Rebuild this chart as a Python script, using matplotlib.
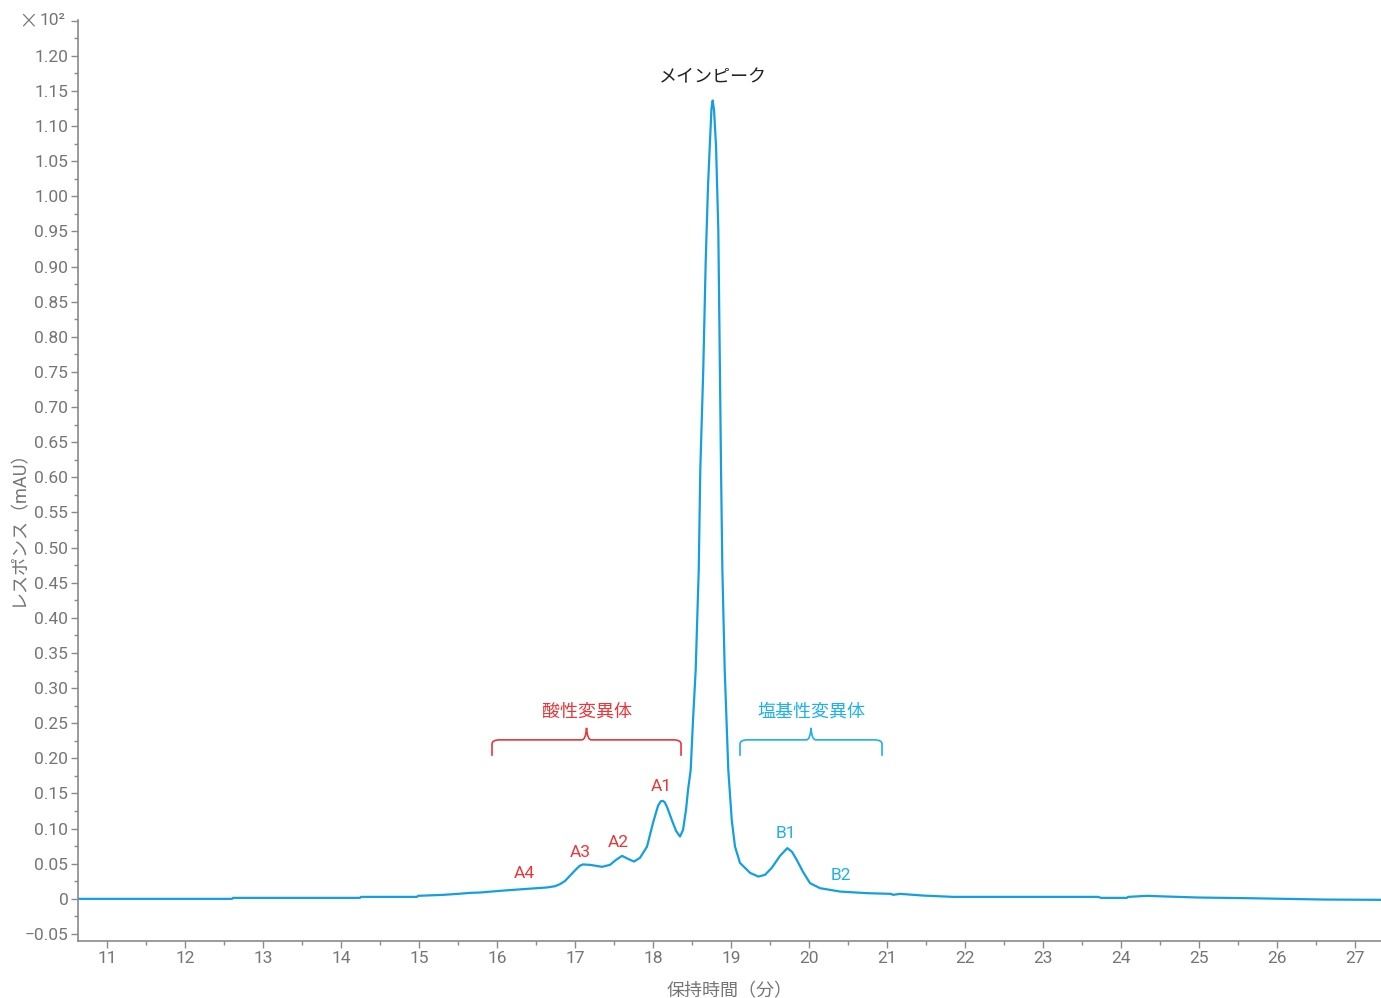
import matplotlib
matplotlib.use("Agg")
import matplotlib.pyplot as plt
from matplotlib.ticker import MultipleLocator, FuncFormatter
from matplotlib.path import Path
from matplotlib.patches import PathPatch

plt.rcParams['font.family'] = ['Roboto', 'Noto Sans CJK JP', 'DejaVu Sans']

# Retention time (min) and response (x10^2 mAU)
time_min = [10.628, 12.603, 12.615, 14.244, 14.256, 14.974, 14.987, 15.308, 15.500, 15.654,
            15.782, 16.038, 16.295, 16.641, 16.744, 16.808, 16.872, 16.936, 17.013, 17.060,
            17.103, 17.192, 17.346, 17.449, 17.526, 17.603, 17.679, 17.756, 17.833, 17.923,
            18.000, 18.064, 18.100, 18.124, 18.150, 18.179, 18.240, 18.295, 18.346, 18.385,
            18.423, 18.449, 18.483, 18.513, 18.547, 18.586, 18.606, 18.644, 18.676, 18.705,
            18.731, 18.750, 18.765, 18.782, 18.808, 18.837, 18.859, 18.872, 18.889, 18.919,
            18.965, 19.009, 19.051, 19.115, 19.244, 19.350, 19.436, 19.522, 19.628, 19.722,
            19.782, 19.842, 19.923, 20.013, 20.141, 20.397, 20.740, 21.051, 21.077, 21.167,
            21.462, 21.846, 23.705, 23.744, 24.077, 24.090, 24.333, 24.590, 24.987, 25.590,
            26.615, 27.333]
response = [0.0000, 0.0000, 0.0014, 0.0014, 0.0028, 0.0028, 0.0043, 0.0057, 0.0071, 0.0085,
            0.0090, 0.0114, 0.0135, 0.0162, 0.0180, 0.0210, 0.0255, 0.0330, 0.0420, 0.0470,
            0.0490, 0.0484, 0.0456, 0.0484, 0.0555, 0.0612, 0.0569, 0.0531, 0.0584, 0.0744,
            0.1082, 0.1324, 0.1390, 0.1395, 0.1375, 0.1310, 0.1125, 0.0968, 0.0887, 0.0982,
            0.1267, 0.1552, 0.1836, 0.2548, 0.3260, 0.4683, 0.6107, 0.7530, 0.9100, 1.0150,
            1.0800, 1.1260, 1.1364, 1.1230, 1.0709, 0.9523, 0.7388, 0.6107, 0.4683, 0.3260,
            0.1836, 0.1125, 0.0744, 0.0512, 0.0370, 0.0317, 0.0342, 0.0441, 0.0612, 0.0722,
            0.0669, 0.0555, 0.0384, 0.0223, 0.0152, 0.0104, 0.0081, 0.0071, 0.0057, 0.0071,
            0.0047, 0.0028, 0.0028, 0.0014, 0.0014, 0.0028, 0.0043, 0.0033, 0.0019, 0.0010,
            -0.0010, -0.0014]

# Peak labels
peak_labels = ['A4', 'A3', 'A2', 'A1', 'B1', 'B2']
peak_x = [16.346, 17.064, 17.551, 18.103, 19.705, 20.410]
peak_y = [0.0356, 0.0655, 0.0797, 0.1594, 0.0925, 0.0327]
peak_colors = ['#e8363a'] * 4 + ['#1fb0ea'] * 2

# Group annotations: label, brace start, brace end, color
group_labels = ['酸性変異体', '塩基性変異体']
group_start = [15.936, 19.115]
group_end = [18.359, 20.936]
group_colors = ['#e8363a', '#1fb0ea']

main_label = 'メインピーク'
main_x = 18.765
main_y = 1.169

LINE = '#149fdf'
GRAY = '#757575'

fig = plt.figure(figsize=(13.81, 9.98), dpi=100)
ax = fig.add_axes([78 / 1381, 57 / 998, 1 - 78 / 1381, (941 - 20) / 998])

ax.plot(time_min, response, color=LINE, lw=1.6, solid_joinstyle='round')

ax.set_xlim(10.628, 27.333)
ax.set_ylim(-0.06, 1.251)

ax.xaxis.set_major_locator(MultipleLocator(1))
ax.xaxis.set_minor_locator(MultipleLocator(0.5))
ax.yaxis.set_major_locator(MultipleLocator(0.05))
ax.yaxis.set_minor_locator(MultipleLocator(0.025))


def yfmt(v, pos):
    if abs(v - 1.25) < 1e-6:
        return ''
    if abs(v) < 1e-9:
        return '0'
    s = f'{v:.2f}'
    return s.replace('-', '−')


ax.yaxis.set_major_formatter(FuncFormatter(yfmt))
ax.xaxis.set_major_formatter(FuncFormatter(lambda v, p: f'{int(round(v))}'))

for side in ['top', 'right']:
    ax.spines[side].set_visible(False)
for side in ['left', 'bottom']:
    ax.spines[side].set_color('#8a8a8a')
    ax.spines[side].set_linewidth(1.2)

ax.tick_params(axis='both', which='major', colors='#8a8a8a', labelcolor=GRAY,
               labelsize=12.5, length=5, width=1)
ax.tick_params(axis='both', which='minor', colors='#8a8a8a', length=3, width=1)
ax.tick_params(axis='x', pad=2)
ax.tick_params(axis='y', pad=2)

# Exponent marker at the top tick
ax.text(-12 / 1303, 1.25, '10²', transform=ax.get_yaxis_transform(), color=GRAY,
        fontsize=12.5, ha='right', va='center')
ax.text(-40 / 1303, 1.25, '×', transform=ax.get_yaxis_transform(), color=GRAY,
        fontsize=17, ha='right', va='center', family=['DejaVu Sans'], fontweight='light')

ax.set_xlabel('保持時間（分）', color=GRAY, fontsize=13, labelpad=12)
ax.set_ylabel('レスポンス（mAU）', color=GRAY, fontsize=13)
ax.yaxis.set_label_coords(-51 / 1303, 0.454)

# Peak labels
for lab, x, y, c in zip(peak_labels, peak_x, peak_y, peak_colors):
    ax.text(x, y, lab, color=c, fontsize=12.5, ha='center', va='center')

ax.text(main_x, main_y, main_label, color='#222222', fontsize=13, ha='center', va='center')

# Braces
y_top = 0.2263
y_end = 0.2036
y_cusp = 0.2434
r = 0.10  # corner size in x
for lab, x0, x1, c in zip(group_labels, group_start, group_end, group_colors):
    xm = (x0 + x1) / 2
    verts = [
        (x0, y_end), (x0, y_top - 0.006), (x0, y_top), (x0 + r, y_top),
        (xm - 0.06, y_top), (xm - 0.01, y_top), (xm, y_cusp),
        (xm + 0.01, y_top), (xm + 0.06, y_top),
        (x1 - r, y_top), (x1, y_top), (x1, y_top - 0.006), (x1, y_end),
    ]
    codes = [Path.MOVETO, Path.LINETO, Path.CURVE3, Path.CURVE3,
             Path.LINETO, Path.CURVE3, Path.CURVE3,
             Path.CURVE3, Path.CURVE3,
             Path.LINETO, Path.CURVE3, Path.CURVE3, Path.LINETO]
    ax.add_patch(PathPatch(Path(verts, codes), fill=False, edgecolor=c, lw=1.2))
    ax.text(xm, 0.266, lab, color=c, fontsize=13, ha='center', va='center')

fig.savefig('out.png', dpi=100)
